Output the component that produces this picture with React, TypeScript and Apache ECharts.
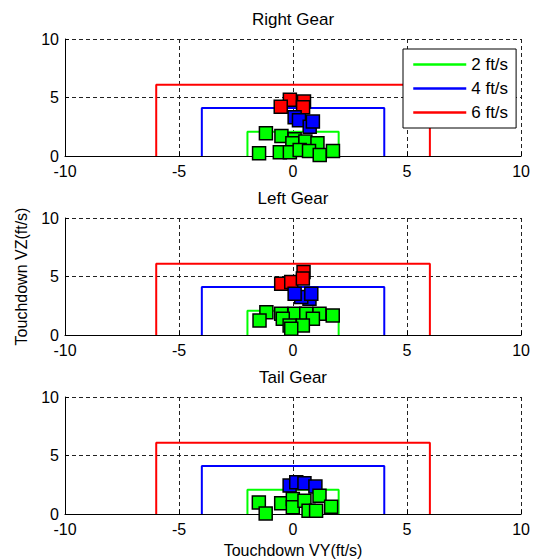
import React, { useEffect, useRef } from 'react';
import * as echarts from 'echarts';

const FONT = '"Liberation Sans", Arial, Helvetica, sans-serif';

const gearTitles = ['Right Gear', 'Left Gear', 'Tail Gear'];
const speedNames = ['2 ft/s', '4 ft/s', '6 ft/s'];
const speedColors = ['#00ff00', '#0000ff', '#ff0000'];
const envelopeHalfWidths = [2, 4, 6];
const envelopeHeights = [2.08, 4.1, 6.08];
const xTickValues = [-10, -5, 0, 5, 10];
const yTickValues = [0, 5, 10];

// Right gear touchdown points [VY, VZ]
const rightRed = [[-0.14, 4.8], [0.48, 4.65], [-0.54, 4.2], [0.44, 4.17]];
const rightBlue = [[0.07, 3.32], [0.26, 3.06], [0.73, 2.51], [0.87, 2.94]];
const rightGreen = [
  [-1.19, 1.94], [-0.51, 1.71], [0.07, 1.43], [-0.03, 1.09], [0.54, 1.23], [1.07, 1.09],
  [-1.49, 0.23], [-0.58, 0.31], [-0.14, 0.31], [0.29, 0.51], [0.7, 0.43], [1.17, 0.09], [1.75, 0.43],
];

// Left gear touchdown points
const leftRed = [[-0.52, 4.39], [-0.08, 4.53], [0.46, 5.38], [0.43, 4.82]];
const leftBlue = [[0.72, 3.1], [0.36, 3.24], [0.07, 3.53], [0.8, 3.53]];
const leftGreen = [
  [-1.17, 1.95], [-1.47, 1.24], [-0.52, 1.82], [0.07, 1.82], [0.58, 1.82], [1.16, 1.82], [1.74, 1.67],
  [-0.45, 1.38], [0.87, 1.38], [-0.15, 0.81], [0.43, 0.81], [-0.08, 0.53],
];

// Tail gear touchdown points
const tailRed: number[][] = [];
const tailBlue = [[-0.15, 2.43], [0.14, 2.71], [0.5, 2.62], [0.98, 2.34]];
const tailGreen = [
  [-1.5, 0.99], [-1.2, 0.05], [-0.52, 0.91], [-0.01, 1.28], [-0.01, 0.57], [0.5, 1.14],
  [0.68, 0.28], [1.01, 0.28], [1.16, 1.57], [1.67, 0.63],
];

const gearPoints = [
  [rightGreen, rightBlue, rightRed],
  [leftGreen, leftBlue, leftRed],
  [tailGreen, tailBlue, tailRed],
];

const gridTops = [39, 218, 397];
const gridHeight = 117;
const titleTops = [11, 190, 369];

function envelope(k: number) {
  const w = envelopeHalfWidths[k];
  const h = envelopeHeights[k];
  return [[-w, 0], [-w, h], [w, h], [w, 0]];
}

export default function App() {
  const ref = useRef<HTMLDivElement>(null);
  useEffect(() => {
    if (!ref.current) return;
    const chart = echarts.init(ref.current, null, { renderer: 'svg' });

    const axisCommon = {
      type: 'value' as const,
      axisLine: { onZero: false, lineStyle: { color: '#000', width: 1 } },
      axisTick: { show: true, inside: true, length: 4, lineStyle: { color: '#000' } },
      axisLabel: { color: '#000', fontSize: 16, fontFamily: FONT },
      splitLine: { show: true, lineStyle: { color: '#222', type: [4, 3], width: 1 } },
    };

    const series: any[] = [];
    gearTitles.forEach((_, i) => {
      speedNames.forEach((name, k) => {
        series.push({
          type: 'line',
          name,
          xAxisIndex: i,
          yAxisIndex: i,
          data: envelope(k),
          symbol: 'none',
          lineStyle: { color: speedColors[k], width: 2 },
          itemStyle: { color: speedColors[k] },
          z: 2,
        });
      });
      [2, 1, 0].forEach((k) => {
        series.push({
          type: 'scatter',
          name: gearTitles[i] + ' ' + speedNames[k] + ' points',
          xAxisIndex: i,
          yAxisIndex: i,
          data: gearPoints[i][k],
          symbol: 'rect',
          symbolSize: 13,
          itemStyle: { color: speedColors[k], borderColor: '#000', borderWidth: 1.5, opacity: 1 },
          z: 3,
        });
      });
    });

    chart.setOption({
      animation: false,
      backgroundColor: '#fff',
      title: gearTitles.map((t, i) => ({
        text: t,
        left: 293,
        top: titleTops[i],
        textAlign: 'center',
        padding: 0,
        textStyle: { fontSize: 17, fontWeight: 'normal', color: '#000', fontFamily: FONT },
      })),
      legend: {
        data: speedNames,
        orient: 'vertical',
        left: 403,
        top: 49,
        padding: [7, 8, 7, 9],
        itemGap: 7,
        itemWidth: 53,
        itemHeight: 17,
        selectedMode: false,
        borderColor: '#000',
        borderWidth: 1,
        backgroundColor: '#fff',
        itemStyle: { opacity: 0, borderWidth: 0 },
        lineStyle: { width: 2.5 },
        textStyle: { fontSize: 17, color: '#000', fontFamily: FONT, lineHeight: 17 },
        z: 10,
      },
      grid: gridTops.map((top) => ({ left: 65, right: 11, top, height: gridHeight })),
      xAxis: gearTitles.map((_, i) => ({
        ...axisCommon,
        gridIndex: i,
        min: xTickValues[0],
        max: xTickValues[xTickValues.length - 1],
        interval: xTickValues[1] - xTickValues[0],
        axisLabel: { ...axisCommon.axisLabel, margin: 7 },
        name: i === 2 ? 'Touchdown VY(ft/s)' : '',
        nameLocation: 'middle',
        nameGap: 28,
        nameTextStyle: { fontSize: 16, color: '#000', fontFamily: FONT },
      })),
      yAxis: gearTitles.map((_, i) => ({
        ...axisCommon,
        gridIndex: i,
        min: yTickValues[0],
        max: yTickValues[yTickValues.length - 1],
        interval: yTickValues[1] - yTickValues[0],
        axisLabel: { ...axisCommon.axisLabel, margin: 6 },
        name: i === 1 ? 'Touchdown VZ(ft/s)' : '',
        nameLocation: 'middle',
        nameGap: 36,
        nameTextStyle: { fontSize: 16, color: '#000', fontFamily: FONT },
      })),
      series,
    });

    return () => chart.dispose();
  }, []);

  return (
    <div
      ref={ref}
      style={{ position: 'fixed', left: 0, top: 0, width: 533, height: 560, background: '#fff' }}
    />
  );
}
